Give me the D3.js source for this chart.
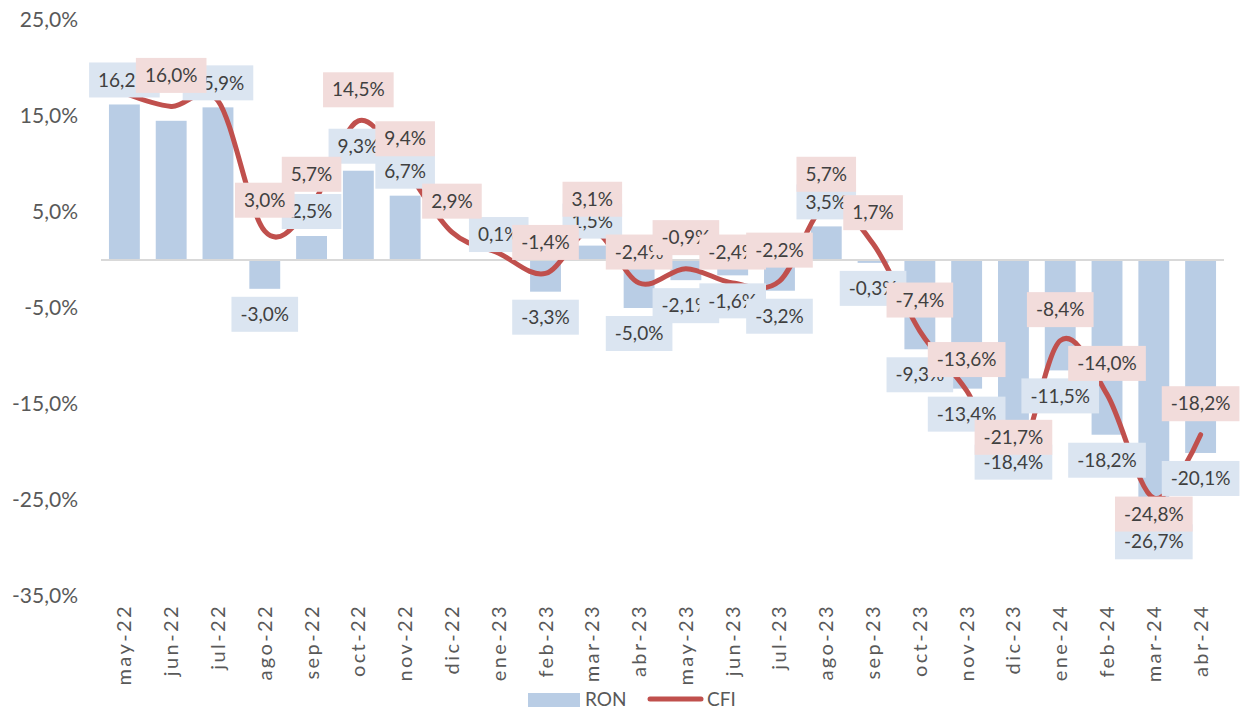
<!doctype html>
<meta charset="utf-8">
<style>
  body { margin: 0; background: #fff; }
  text { font-family: Lato, 'Open Sans', sans-serif; }
</style>
<body>
<script src="https://cdn.jsdelivr.net/npm/d3@7/dist/d3.min.js"></script>
<script>

var months = ['may-22', 'jun-22', 'jul-22', 'ago-22', 'sep-22', 'oct-22', 'nov-22', 'dic-22',
              'ene-23', 'feb-23', 'mar-23', 'abr-23', 'may-23', 'jun-23', 'jul-23', 'ago-23',
              'sep-23', 'oct-23', 'nov-23', 'dic-23', 'ene-24', 'feb-24', 'mar-24', 'abr-24'];

// RON (bars), %
var ron = [16.2, 14.5, 15.9, -3.0, 2.5, 9.3, 6.7, 0.0,
           0.1, -3.3, 1.5, -5.0, -2.1, -1.6, -3.2, 3.5,
           -0.3, -9.3, -13.4, -18.4, -11.5, -18.2, -26.7, -20.1];

// CFI (line), %
var cfi = [17.4, 16.0, 16.6, 3.0, 5.7, 14.5, 9.4, 2.9,
           0.7, -1.4, 3.1, -2.4, -0.9, -2.4, -2.2, 5.7,
           1.7, -7.4, -13.6, -21.7, -8.4, -14.0, -24.8, -18.2];

var yTicks = [25, 15, 5, -5, -15, -25, -35];

// labels that are not shown in the original
var ronHide = ['jun-22', 'dic-22'];
var cfiHide = ['may-22', 'jul-22', 'ene-23'];
var cfiBelow = ['mar-24'];

var width = 1247, height = 710;

var locale = d3.formatLocale({decimal: ',', thousands: '.', grouping: [3], currency: ['', '€'], minus: '-'});
var fmt = locale.format('.1f');
var pct = function(v) { return fmt(v) + '%'; };

var svg = d3.select('body').append('svg')
    .attr('width', width)
    .attr('height', height);

var x = d3.scaleBand()
    .domain(months)
    .range([101, 1224])
    .paddingInner(0.34)
    .paddingOuter(0.17);

var y = d3.scaleLinear()
    .domain([-35, 25])
    .range([596, 20]);

// y axis labels (no line, no grid)
svg.append('g')
  .selectAll('text')
  .data(yTicks)
  .enter().append('text')
    .attr('x', 78)
    .attr('y', function(d) { return y(d); })
    .attr('dy', '0.35em')
    .attr('text-anchor', 'end')
    .style('font-size', '21px')
    .style('fill', '#595959')
    .text(pct);

// bars
svg.append('g')
  .selectAll('rect')
  .data(months)
  .enter().append('rect')
    .attr('x', function(d) { return x(d); })
    .attr('width', x.bandwidth())
    .attr('y', function(d, i) { return y(Math.max(0, ron[i])); })
    .attr('height', function(d, i) { return Math.abs(y(ron[i]) - y(0)); })
    .attr('fill', '#b9cde5');

// zero line
svg.append('line')
    .attr('x1', 101).attr('x2', 1224)
    .attr('y1', y(0)).attr('y2', y(0))
    .attr('stroke', '#d9d9d9')
    .attr('stroke-width', 2);

// CFI line
var line = d3.line()
    .x(function(d, i) { return x(months[i]) + x.bandwidth() / 2; })
    .y(function(d) { return y(d); })
    .curve(d3.curveCardinal.tension(0));

svg.append('path')
    .datum(cfi)
    .attr('d', line)
    .attr('fill', 'none')
    .attr('stroke', '#c0504d')
    .attr('stroke-width', 5)
    .attr('stroke-linecap', 'round');

// x axis labels
svg.append('g')
  .selectAll('text')
  .data(months)
  .enter().append('text')
    .attr('transform', function(d) {
      return 'translate(' + (x(d) + x.bandwidth() / 2) + ',604) rotate(-90)';
    })
    .attr('dy', '0.35em')
    .attr('text-anchor', 'end')
    .style('font-size', '20px')
    .style('letter-spacing', '2.4px')
    .style('fill', '#595959')
    .text(function(d) { return d; });

// data labels
function drawLabel(g, cx, cy, txt, fill) {
  var lg = g.append('g');
  var t = lg.append('text')
      .attr('x', cx)
      .attr('y', cy)
      .attr('dy', '0.35em')
      .attr('text-anchor', 'middle')
      .style('font-size', '19px')
      .style('fill', '#404040')
      .text(txt);
  var w = t.node().getComputedTextLength() + 18;
  lg.insert('rect', 'text')
      .attr('x', cx - w / 2)
      .attr('y', cy - 17.5)
      .attr('width', w)
      .attr('height', 35)
      .attr('fill', fill);
}

var ronLabels = svg.append('g');
months.forEach(function(m, i) {
  if (ronHide.indexOf(m) >= 0) return;
  var cx = x(m) + x.bandwidth() / 2;
  var cy = ron[i] >= 0 ? y(ron[i]) - 24.5 : y(ron[i]) + 25.5;
  drawLabel(ronLabels, cx, cy, pct(ron[i]), '#dbe5f1');
});

var cfiLabels = svg.append('g');
months.forEach(function(m, i) {
  if (cfiHide.indexOf(m) >= 0) return;
  var cx = x(m) + x.bandwidth() / 2;
  var cy = cfiBelow.indexOf(m) >= 0 ? y(cfi[i]) + 16 : y(cfi[i]) - 31;
  drawLabel(cfiLabels, cx, cy, pct(cfi[i]), '#f2dcdb');
});

// legend
var legend = svg.append('g');
legend.append('rect')
    .attr('x', 528).attr('y', 693)
    .attr('width', 52).attr('height', 14)
    .attr('fill', '#b9cde5');
legend.append('text')
    .attr('x', 585).attr('y', 699)
    .attr('dy', '0.35em')
    .style('font-size', '19px')
    .style('fill', '#595959')
    .text('RON');
legend.append('line')
    .attr('x1', 650).attr('x2', 701)
    .attr('y1', 699).attr('y2', 699)
    .attr('stroke', '#c0504d')
    .attr('stroke-width', 5)
    .attr('stroke-linecap', 'round');
legend.append('text')
    .attr('x', 707).attr('y', 699)
    .attr('dy', '0.35em')
    .style('font-size', '19px')
    .style('fill', '#595959')
    .text('CFI');

</script>
